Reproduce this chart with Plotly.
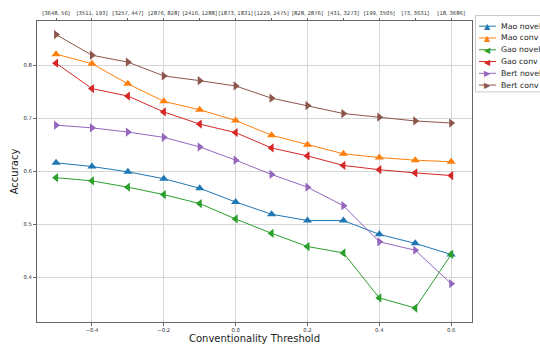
import plotly.graph_objects as go

thresholds = [-0.5, -0.4, -0.3, -0.2, -0.1, 0.0, 0.1, 0.2, 0.3, 0.4, 0.5, 0.6]
top_labels = ["[3648, 56]", "[3511, 193]", "[3257, 447]", "[2876, 828]", "[2416, 1288]",
              "[1873, 1831]", "[1229, 2475]", "[828, 2876]", "[431, 3273]", "[199, 3505]",
              "[73, 3631]", "[18, 3686]"]
bottom_ticks = [-0.4, -0.2, 0.0, 0.2, 0.4, 0.6]
bottom_labels = ["\u22120.4", "\u22120.2", "0.0", "0.2", "0.4", "0.6"]
y_ticks = [0.4, 0.5, 0.6, 0.7, 0.8]

mao_novel = [0.616, 0.609, 0.599, 0.586, 0.568, 0.542, 0.519, 0.507, 0.507, 0.481, 0.464, 0.443]
mao_conv = [0.821, 0.803, 0.765, 0.732, 0.716, 0.696, 0.668, 0.650, 0.633, 0.626, 0.621, 0.618]
gao_novel = [0.588, 0.582, 0.570, 0.556, 0.539, 0.510, 0.483, 0.458, 0.446, 0.361, 0.342, 0.443]
gao_conv = [0.804, 0.756, 0.742, 0.712, 0.689, 0.673, 0.644, 0.629, 0.611, 0.603, 0.597, 0.592]
bert_novel = [0.687, 0.682, 0.674, 0.664, 0.646, 0.621, 0.594, 0.570, 0.535, 0.467, 0.451, 0.388]
bert_conv = [0.858, 0.819, 0.806, 0.780, 0.771, 0.761, 0.738, 0.724, 0.709, 0.702, 0.695, 0.691]

series_names = ["Mao novel", "Mao conv", "Gao novel", "Gao conv", "Bert novel", "Bert conv"]
series_values = [mao_novel, mao_conv, gao_novel, gao_conv, bert_novel, bert_conv]
colors = ["#1f77b4", "#ff7f0e", "#2ca02c", "#d62728", "#9467bd", "#8c564b"]
symbols = ["triangle-up", "triangle-up", "triangle-left", "triangle-left",
           "triangle-right", "triangle-right"]
glyphs = {"triangle-up": "\u25B2", "triangle-left": "\u25C0", "triangle-right": "\u25B6"}

FONT = "DejaVu Sans"

fig = go.Figure()
for name, ys, color, sym in zip(series_names, series_values, colors, symbols):
    fig.add_trace(go.Scatter(
        x=thresholds, y=ys, name=name, mode="lines+markers",
        line=dict(color=color, width=1),
        marker=dict(symbol=sym, size=8, color=color),
    ))

# invisible trace to carry the top axis
fig.add_trace(go.Scatter(x=thresholds, y=mao_novel, xaxis="x2", yaxis="y",
                         mode="markers", marker=dict(opacity=0), showlegend=False,
                         hoverinfo="skip"))

# ---- layout geometry (page pixels) ----
W, H = 540, 345
ML, MT, MR, MB = 36.5, 20.5, 68, 23
plot_left = ML
plot_right = W - MR
plot_top = MT
plot_bottom = H - MB


def px_x(px):
    return (px - plot_left) / (plot_right - plot_left)


def px_y(py):
    return (plot_bottom - py) / (plot_bottom - plot_top)


# ---- legend drawn as annotations (matplotlib-like compact legend) ----
shapes = [dict(type="rect", xref="paper", yref="paper",
               x0=px_x(475.5), x1=px_x(600), y0=px_y(91.5), y1=px_y(15),
               line=dict(color="#cccccc", width=1), fillcolor="white", layer="above")]
annotations = []
for i, (name, color, sym) in enumerate(zip(series_names, colors, symbols)):
    yc = 25.7 + 11.8 * i
    shapes.append(dict(type="line", xref="paper", yref="paper",
                       x0=px_x(479), x1=px_x(496), y0=px_y(yc), y1=px_y(yc),
                       line=dict(color=color, width=1), layer="above"))
    annotations.append(dict(xref="paper", yref="paper", x=px_x(487.5), y=px_y(yc + 0.5),
                            text=glyphs[sym], showarrow=False, xanchor="center",
                            yanchor="middle", font=dict(family=FONT, size=8, color=color)))
    annotations.append(dict(xref="paper", yref="paper", x=px_x(499), y=px_y(yc),
                            text=name, showarrow=False, xanchor="left", yanchor="middle",
                            font=dict(family=FONT, size=7.8, color="#222222")))

xr = [-0.553, 0.658]
tickfont = dict(family=FONT, size=5.3, color="#333333")
fig.update_layout(
    width=W, height=H,
    margin=dict(l=ML, r=MR, t=MT, b=MB, pad=0, autoexpand=False),
    paper_bgcolor="white", plot_bgcolor="white",
    font=dict(family=FONT, color="#222222"),
    showlegend=False,
    xaxis=dict(
        range=xr, tickvals=bottom_ticks, ticktext=bottom_labels,
        showgrid=True, gridcolor="#d5d5d5", gridwidth=0.8,
        showline=True, linecolor="#666666", linewidth=1, mirror=False,
        ticks="outside", ticklen=3, tickcolor="#666666", tickfont=tickfont,
        zeroline=False, automargin=False,
        title=dict(text="Conventionality Threshold", font=dict(family=FONT, size=10, color="#222222"),
                   standoff=1),
    ),
    xaxis2=dict(
        range=xr, overlaying="x", side="top", tickvals=thresholds, ticktext=top_labels,
        showgrid=False, showline=True, linecolor="#666666", linewidth=1,
        ticks="outside", ticklen=2.5, tickcolor="#666666", tickfont=tickfont,
        zeroline=False, tickangle=0, automargin=False,
    ),
    yaxis=dict(
        range=[0.3156, 0.8836], tickvals=y_ticks,
        showgrid=True, gridcolor="#d5d5d5", gridwidth=0.8,
        showline=True, linecolor="#666666", linewidth=1, mirror=True,
        ticks="outside", ticklen=3, tickcolor="#666666", tickfont=tickfont,
        zeroline=False, automargin=False,
        title=dict(text="Accuracy", font=dict(family=FONT, size=10, color="#222222"), standoff=3),
    ),
    shapes=shapes,
    annotations=annotations,
)

fig.write_html("out.html", config={"displayModeBar": False},
               post_script="document.body.style.margin='0';document.body.style.overflow='hidden';")
